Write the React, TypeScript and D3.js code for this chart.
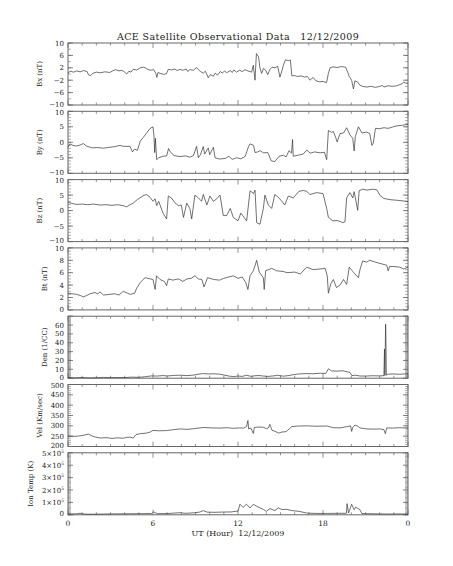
import * as d3 from 'd3';

// hour of day (UT), value
const bxData: [number, number][] = [
  [0, 0.3], [0.15, 0.9], [0.4, 0.6], [0.6, 1.0], [0.85, 0.7], [1.1, 1.1], [1.35, 0.8], [1.45, -0.3], [1.6, -0.5], [1.75, 0.2],
  [2.0, 0.6], [2.3, 0.4], [2.6, 0.7], [2.95, 0.5], [3.15, 1.0], [3.35, 1.4], [3.6, 1.0], [3.8, 1.2], [4.0, 0.6], [4.15, 0.0],
  [4.3, 0.9], [4.45, 0.6], [4.6, 1.5], [4.85, 1.3], [5.1, 2.0], [5.35, 2.2], [5.55, 1.7], [5.8, 1.2], [6.05, 1.4], [6.2, 0.2],
  [6.27, -1.1], [6.35, 0.5], [6.5, 0.2], [6.75, -0.1], [6.95, 0.1], [7.08, 1.5], [7.3, 1.3], [7.55, 1.6], [7.7, 1.1], [7.9, 1.5],
  [8.1, 1.2], [8.35, 1.6], [8.45, 0.8], [8.6, 1.4], [8.85, 1.2], [9.08, 2.1], [9.2, 1.4], [9.35, 0.8], [9.55, 0.3], [9.7, 0.9],
  [9.9, -1.2], [10.05, -0.2], [10.26, -0.7], [10.4, 0.3], [10.55, -0.4], [10.75, 0.8], [10.9, 0.3], [11.05, 1.0], [11.2, 0.4],
  [11.45, 1.1], [11.6, 0.5], [11.7, 1.3], [11.9, 0.6], [12.1, 1.2], [12.3, 0.8], [12.5, 1.4], [12.7, 1.0], [12.96, 0.6],
  [13.08, 2.8], [13.2, -2.0], [13.3, 6.6], [13.45, 5.5], [13.55, 2.0], [13.67, 0.2], [13.8, 1.8], [13.95, 1.2], [14.1, -0.2],
  [14.25, 1.5], [14.4, 2.2], [14.6, 2.0], [14.8, 2.5], [14.96, -1.0], [15.1, 1.0], [15.2, 2.8], [15.35, 4.6], [15.55, 4.3],
  [15.7, 4.5], [15.8, -0.6], [16.0, -0.5], [16.2, -0.8], [16.45, -0.6], [16.7, -1.0], [16.9, -0.8], [17.08, -2.0], [17.3, -1.1],
  [17.5, -2.2], [17.75, -2.5], [18.0, -2.4], [18.25, -2.8], [18.38, 0.2], [18.5, 2.0], [18.7, 2.3], [19.0, 2.1], [19.3, 2.4],
  [19.6, 2.2], [19.75, 0.5], [19.85, -0.8], [20.02, -2.0], [20.15, -4.8], [20.25, -2.2], [20.45, -2.6], [20.6, -3.6],
  [20.8, -4.0], [21.1, -4.2], [21.4, -4.0], [21.7, -4.3], [22.0, -4.0], [22.2, -3.7], [22.3, -4.2], [22.6, -3.8], [22.9, -4.0],
  [23.2, -3.8], [23.45, -3.4], [23.6, -3.1], [23.7, -2.6], [23.85, -3.0], [24, -2.9],
];

const byData: [number, number][] = [
  [0, -1.6], [0.14, -0.5], [0.35, -1.0], [0.6, -1.2], [0.85, -0.9], [1.08, -0.4], [1.3, -1.2], [1.7, -1.8], [2.1, -1.7],
  [2.5, -1.9], [2.96, -1.6], [3.3, -1.4], [3.67, -1.0], [3.9, -1.3], [4.38, -1.3], [4.55, -3.1], [4.7, -2.2], [4.9, -2.6],
  [5.1, 0.4], [5.3, 1.5], [5.55, 3.0], [5.8, 4.5], [6.0, 5.0], [6.07, 2.0], [6.12, -3.3], [6.17, 1.3], [6.26, -5.6], [6.4, -5.0],
  [6.7, -4.5], [6.96, -4.4], [7.1, -2.0], [7.25, -3.3], [7.5, -4.3], [7.9, -4.6], [8.3, -4.4], [8.6, -4.8], [8.85, -4.3],
  [9.08, -1.3], [9.2, -5.0], [9.35, -4.0], [9.55, -1.4], [9.65, -3.8], [9.9, -1.8], [10.0, -4.0], [10.26, -1.6], [10.38, -5.0],
  [10.7, -5.4], [11.1, -5.2], [11.35, -4.5], [11.6, -5.5], [11.9, -5.0], [12.2, -5.3], [12.5, -4.6], [12.75, -1.3],
  [12.85, -0.5], [13.1, -1.0], [13.2, -3.3], [13.4, -3.1], [13.55, -2.7], [13.8, -3.4], [14.1, -3.3], [14.35, -6.0],
  [14.6, -6.2], [14.9, -4.5], [15.2, -4.2], [15.4, -4.7], [15.6, -2.7], [15.78, -3.5], [15.85, 0.9], [15.9, -4.5],
  [16.2, -4.2], [16.6, -3.8], [16.85, -2.5], [17.1, -3.5], [17.4, -3.1], [17.8, -3.4], [18.1, -3.2], [18.26, -5.6],
  [18.38, 3.8], [18.6, 3.2], [18.73, 3.5], [18.9, 1.5], [19.0, 0.1], [19.2, 2.8], [19.45, 3.0], [19.67, 4.7], [19.9, 2.4],
  [20.1, 1.3], [20.2, -2.8], [20.28, 1.8], [20.5, 5.0], [20.75, 3.0], [21.08, 3.3], [21.3, 2.8], [21.45, -1.0], [21.55, -0.3],
  [21.7, 4.5], [22.0, 4.4], [22.3, 4.7], [22.6, 4.5], [22.9, 4.9], [23.2, 5.3], [23.6, 5.5], [24, 5.8],
];

const bzData: [number, number][] = [
  [0, 2.7], [0.3, 2.3], [0.6, 2.0], [1.0, 2.1], [1.4, 1.9], [1.8, 2.1], [2.26, 1.8], [2.7, 1.9], [3.1, 1.7], [3.5, 1.9],
  [3.9, 1.6], [4.14, 1.2], [4.38, 1.9], [4.6, 2.4], [4.9, 3.6], [5.08, 4.1], [5.3, 4.8], [5.55, 5.2], [5.79, 4.3], [6.0, 3.0],
  [6.15, 3.8], [6.26, 1.6], [6.4, 3.0], [6.6, 0.5], [6.73, -1.0], [6.96, -2.7], [7.08, 4.7], [7.3, 4.1], [7.55, 2.5],
  [7.8, 1.6], [8.0, 1.8], [8.15, -2.2], [8.38, 2.4], [8.6, 0.7], [8.73, -2.7], [8.96, 5.0], [9.2, 4.1], [9.43, 3.0],
  [9.55, 5.2], [9.8, 1.8], [10.02, 4.7], [10.26, 3.0], [10.5, 3.8], [10.73, 5.0], [10.96, -1.6], [11.2, -1.6], [11.45, 0.7],
  [11.67, -2.2], [12.0, -3.3], [12.2, -0.8], [12.61, -3.3], [12.85, 6.4], [13.1, 5.5], [13.2, 6.6], [13.32, -3.9],
  [13.55, -4.4], [13.79, 0.7], [13.9, 5.0], [14.14, 1.8], [14.38, 0.7], [14.6, 5.2], [14.85, 4.3], [15.1, 3.0], [15.3, 1.8],
  [15.55, 4.7], [15.9, 4.1], [16.3, 6.2], [16.6, 6.5], [16.85, 6.2], [17.08, 5.2], [17.55, 5.8], [18.0, 5.5], [18.26, 0.7],
  [18.38, -2.2], [18.7, -3.3], [19.0, -3.2], [19.2, -3.5], [19.4, -3.9], [19.55, -3.6], [19.67, 4.1], [19.9, 5.8],
  [20.1, 4.1], [20.2, 6.1], [20.45, 0.1], [20.55, 6.4], [20.8, 6.9], [21.1, 6.6], [21.5, 6.9], [21.8, 6.7], [22.02, 4.9],
  [22.3, 3.9], [22.8, 3.5], [23.3, 3.3], [23.7, 3.1], [24, 2.9],
];

const btData: [number, number][] = [
  [0, 2.7], [0.3, 2.6], [0.61, 2.5], [0.9, 2.3], [1.08, 2.1], [1.3, 2.3], [1.55, 2.6], [1.9, 2.8], [2.1, 2.6], [2.26, 2.9],
  [2.5, 2.4], [2.9, 2.5], [3.3, 2.6], [3.6, 2.4], [3.9, 3.0], [4.2, 2.7], [4.4, 2.5], [4.7, 2.7], [4.85, 3.5], [5.1, 4.4],
  [5.3, 4.9], [5.45, 5.2], [5.8, 5.0], [6.0, 4.9], [6.15, 3.3], [6.25, 5.5], [6.5, 4.9], [6.8, 4.6], [6.96, 3.9], [7.08, 5.0],
  [7.4, 4.8], [7.8, 5.0], [8.1, 4.6], [8.4, 5.0], [8.7, 5.1], [8.96, 5.5], [9.2, 5.0], [9.45, 4.9], [9.6, 3.7], [9.85, 5.2],
  [10.3, 4.9], [10.7, 4.8], [11.0, 5.1], [11.67, 5.5], [12.0, 5.1], [12.3, 5.3], [12.55, 4.4], [12.7, 3.3], [12.85, 5.5],
  [13.08, 6.3], [13.32, 8.0], [13.5, 6.1], [13.79, 5.2], [13.85, 3.3], [13.95, 6.3], [14.38, 6.7], [14.73, 6.3], [15.2, 6.2],
  [15.45, 6.0], [16.0, 6.1], [16.4, 5.8], [16.85, 6.9], [17.3, 6.5], [17.8, 6.6], [18.15, 6.7], [18.3, 5.5], [18.38, 2.7],
  [18.55, 4.2], [18.73, 4.9], [18.95, 3.6], [19.2, 4.0], [19.45, 4.9], [19.67, 4.1], [19.85, 6.9], [20.1, 6.2], [20.5, 5.2],
  [20.61, 6.5], [20.8, 7.9], [21.08, 7.7], [21.3, 8.0], [21.7, 7.7], [22.02, 7.5], [22.5, 7.2], [22.6, 6.3], [22.7, 7.0],
  [23.0, 7.0], [23.4, 6.9], [23.7, 6.6], [24, 6.9],
];

const denData: [number, number][] = [
  [0, 0.6], [0.5, 0.4], [1.0, 0.8], [1.5, 0.3], [2.0, 0.5], [2.5, 0.9], [3.0, 0.6], [3.5, 0.8], [4.0, 0.7], [4.5, 1.2],
  [5.0, 1.0], [5.4, 1.6], [5.9, 2.6], [6.3, 2.4], [6.7, 3.0], [7.0, 2.5], [7.4, 3.1], [7.9, 3.4], [8.4, 2.9], [8.85, 3.5],
  [9.1, 4.3], [9.5, 5.2], [9.9, 4.8], [10.3, 5.0], [10.7, 4.6], [11.0, 3.6], [11.4, 2.3], [11.7, 1.8], [12.0, 2.5],
  [12.3, 2.0], [12.6, 3.4], [12.9, 2.1], [13.2, 2.8], [13.5, 3.0], [13.8, 2.4], [14.1, 2.0], [14.5, 2.6], [14.8, 3.3],
  [15.2, 2.3], [15.6, 3.0], [15.9, 4.0], [16.3, 4.8], [16.8, 5.2], [17.3, 5.0], [17.8, 5.6], [18.2, 5.4], [18.38, 10.6],
  [18.6, 8.2], [19.0, 8.0], [19.4, 8.4], [19.9, 6.5], [20.05, 2.9], [20.3, 3.4], [20.6, 2.5], [21.0, 2.4], [21.5, 2.8],
  [22.0, 2.6], [22.3, 2.9], [22.34, 33], [22.37, 3], [22.42, 61], [22.44, 46], [22.47, 3.5], [22.6, 4.6], [23.0, 4.8],
  [23.4, 4.4], [23.8, 4.9], [24, 5.0],
];

const velData: [number, number][] = [
  [0, 250], [0.5, 249], [0.9, 252], [1.2, 256], [1.44, 260], [1.67, 252], [1.9, 246], [2.3, 241], [2.7, 243], [3.1, 239],
  [3.5, 242], [3.9, 240], [4.14, 244], [4.38, 245], [4.61, 241], [4.8, 258], [5.1, 262], [5.55, 265], [5.8, 270], [6.0, 278],
  [6.4, 276], [6.96, 277], [7.4, 281], [7.9, 285], [8.4, 283], [8.85, 286], [9.3, 290], [9.6, 292], [10.1, 290],
  [10.73, 289], [11.2, 291], [11.67, 288], [12.1, 290], [12.4, 289], [12.6, 296], [12.7, 326], [12.75, 285], [12.9, 290],
  [13.08, 263], [13.15, 292], [13.4, 294], [13.79, 293], [14.0, 286], [14.14, 290], [14.25, 307], [14.4, 278], [14.6, 274],
  [14.85, 265], [15.1, 270], [15.4, 272], [15.79, 296], [16.2, 299], [16.85, 300], [17.5, 298], [18.3, 299], [18.73, 291],
  [19.2, 290], [19.67, 296], [19.95, 300], [20.02, 273], [20.1, 292], [20.26, 304], [20.45, 298], [20.61, 290],
  [21.08, 285], [21.6, 284], [22.0, 285], [22.3, 282], [22.4, 262], [22.5, 290], [22.9, 289], [23.4, 291], [24, 289],
];

const tempData: [number, number][] = [
  [0, 6000], [0.6, 8000], [0.85, 12000], [1.2, 5000], [2, 5000], [3, 7000], [4, 8000], [5, 9000], [5.9, 10000],
  [6.05, 23000], [6.3, 9000], [7, 10000], [7.5, 14000], [7.9, 17000], [8.3, 12000], [8.9, 16000], [9.3, 22000],
  [9.55, 34000], [9.8, 22000], [10.3, 20000], [10.9, 22000], [11.5, 23000], [12.0, 30000], [12.14, 85000], [12.35, 60000],
  [12.6, 85000], [12.85, 55000], [13.08, 85000], [13.3, 70000], [13.55, 56000], [13.79, 43000], [14.0, 28000],
  [14.26, 50000], [14.6, 34000], [14.85, 56000], [15.1, 42000], [15.4, 45000], [15.79, 34000], [16.3, 28000],
  [16.85, 14000], [17.5, 11000], [18.3, 11000], [19.1, 12000], [19.65, 12000], [19.7, 90000], [19.8, 14000],
  [20.02, 85000], [20.2, 42000], [20.3, 62000], [20.6, 42000], [20.75, 10000], [21.5, 8000], [22.5, 6000], [23.5, 7000],
  [24, 6000],
];

const hourTicks = [0, 6, 12, 18, 24];
const hourLabels = ['0', '6', '12', '18', '0'];

type Panel = {
  label: string;
  data: [number, number][];
  domain: [number, number];
  major: number[];
  minorStep: number;
  titleX: number;
  hideTop?: boolean;
};

const panels: Panel[] = [
  { label: 'Bx (nT)', data: bxData, domain: [-10, 10], major: [-10, -6, -2, 2, 6, 10], minorStep: 2, titleX: 42 },
  { label: 'By (nT)', data: byData, domain: [-10, 10], major: [-10, -5, 0, 5, 10], minorStep: 1, titleX: 42 },
  { label: 'Bz (nT)', data: bzData, domain: [-10, 10], major: [-10, -5, 0, 5, 10], minorStep: 1, titleX: 42 },
  { label: 'Bt (nT)', data: btData, domain: [0, 10], major: [0, 2, 4, 6, 8, 10], minorStep: 0.5, titleX: 47 },
  { label: 'Den (1/CC)', data: denData, domain: [0, 70], major: [0, 10, 20, 30, 40, 50, 60, 70], minorStep: 1, titleX: 47, hideTop: true },
  { label: 'Vel (Km/sec)', data: velData, domain: [200, 500], major: [200, 250, 300, 350, 400, 450, 500], minorStep: 10, titleX: 42 },
  { label: 'Ion Temp (K)', data: tempData, domain: [0, 500000], major: [0, 100000, 200000, 300000, 400000, 500000], minorStep: 10000, titleX: 33 },
];

const plotLeft = 68;
const plotRight = 408;
const firstTop = 43;
const panelH = 62;
const panelStep = 68.3;
const axisColor = '#666';
const lineColor = '#333';
const font = 'DejaVu Serif';

function tickLabel(p: Panel, v: number) {
  if (p.label.startsWith('Ion')) {
    if (v === 0) return '0';
    return (
      <>
        {`${v / 100000}×10`}
        <tspan dy={-2.8} fontSize={4.5}>5</tspan>
      </>
    );
  }
  return v < 0 ? `\u2212${-v}` : `${v}`;
}

export default function App() {
  const x = d3.scaleLinear().domain([0, 24]).range([plotLeft, plotRight]);
  const hourMinor = d3.range(0, 24.001, 1);
  const lastBottom = firstTop + (panels.length - 1) * panelStep + panelH;

  return (
    <svg width={453} height={566} style={{ position: 'absolute', left: 0, top: 0, background: '#fff' }}>
      <text x={238} y={40} textAnchor="middle" fontFamily={font} fontSize={9.5} fill="#222" letterSpacing={0.4}>
        ACE Satellite Observational Data{'\u00a0\u00a0\u00a0'}12/12/2009
      </text>

      {panels.map((p, i) => {
        const top = firstTop + i * panelStep;
        const y = d3.scaleLinear().domain(p.domain).range([top + panelH, top]);
        const line = d3
          .line<[number, number]>()
          .x(d => x(d[0]))
          .y(d => y(d[1]));
        const minor = d3.range(p.domain[0], p.domain[1] + p.minorStep / 2, p.minorStep);
        return (
          <g key={p.label}>
            {/* minor y ticks, both sides */}
            {minor.map(v => (
              <g key={'m' + v} stroke="#999" strokeWidth={0.8}>
                <line x1={plotLeft} x2={plotLeft + 3} y1={y(v)} y2={y(v)} />
                <line x1={plotRight} x2={plotRight - 3} y1={y(v)} y2={y(v)} />
              </g>
            ))}
            {p.major.map(v => (
              <g key={'M' + v} stroke={axisColor} strokeWidth={0.8}>
                <line x1={plotLeft} x2={plotLeft + 5} y1={y(v)} y2={y(v)} />
                <line x1={plotRight} x2={plotRight - 5} y1={y(v)} y2={y(v)} />
              </g>
            ))}
            {p.major
              .filter(v => !(p.hideTop && v === p.domain[1]))
              .map(v => {
                const nudge = v === p.domain[1] ? 0.9 : v === p.domain[0] ? -0.9 : 0;
                return (
                  <text
                    key={'L' + v}
                    x={64}
                    y={y(v) + 2.5 + nudge}
                    textAnchor="end"
                    fontFamily={font}
                    fontSize={7}
                    fill="#222"
                  >
                    {tickLabel(p, v)}
                  </text>
                );
              })}
            {/* x ticks top and bottom */}
            {hourMinor.map(h => {
              const len = h % 6 === 0 ? 5 : 2.5;
              return (
                <g key={'x' + h} stroke={axisColor} strokeWidth={0.7}>
                  <line x1={x(h)} x2={x(h)} y1={top + panelH} y2={top + panelH - len} />
                  <line x1={x(h)} x2={x(h)} y1={top} y2={top + len} />
                </g>
              );
            })}
            <rect x={plotLeft} y={top} width={plotRight - plotLeft} height={panelH} fill="none" stroke={axisColor} strokeWidth={1} />
            <path d={line(p.data) ?? ''} fill="none" stroke={lineColor} strokeWidth={0.7} strokeLinejoin="round" />
            <text
              transform={`translate(${p.titleX},${top + panelH / 2}) rotate(-90)`}
              textAnchor="middle"
              fontFamily={font}
              fontSize={7}
              fill="#222"
            >
              {p.label}
            </text>
          </g>
        );
      })}

      {hourTicks.map((h, i) => (
        <text key={'xl' + i} x={x(h)} y={lastBottom + 11} textAnchor="middle" fontFamily={font} fontSize={7.5} fill="#222">
          {hourLabels[i]}
        </text>
      ))}
      <text x={238} y={lastBottom + 21} textAnchor="middle" fontFamily={font} fontSize={8} fill="#222">
        UT (Hour){'\u00a0\u00a0'}12/12/2009
      </text>
    </svg>
  );
}
